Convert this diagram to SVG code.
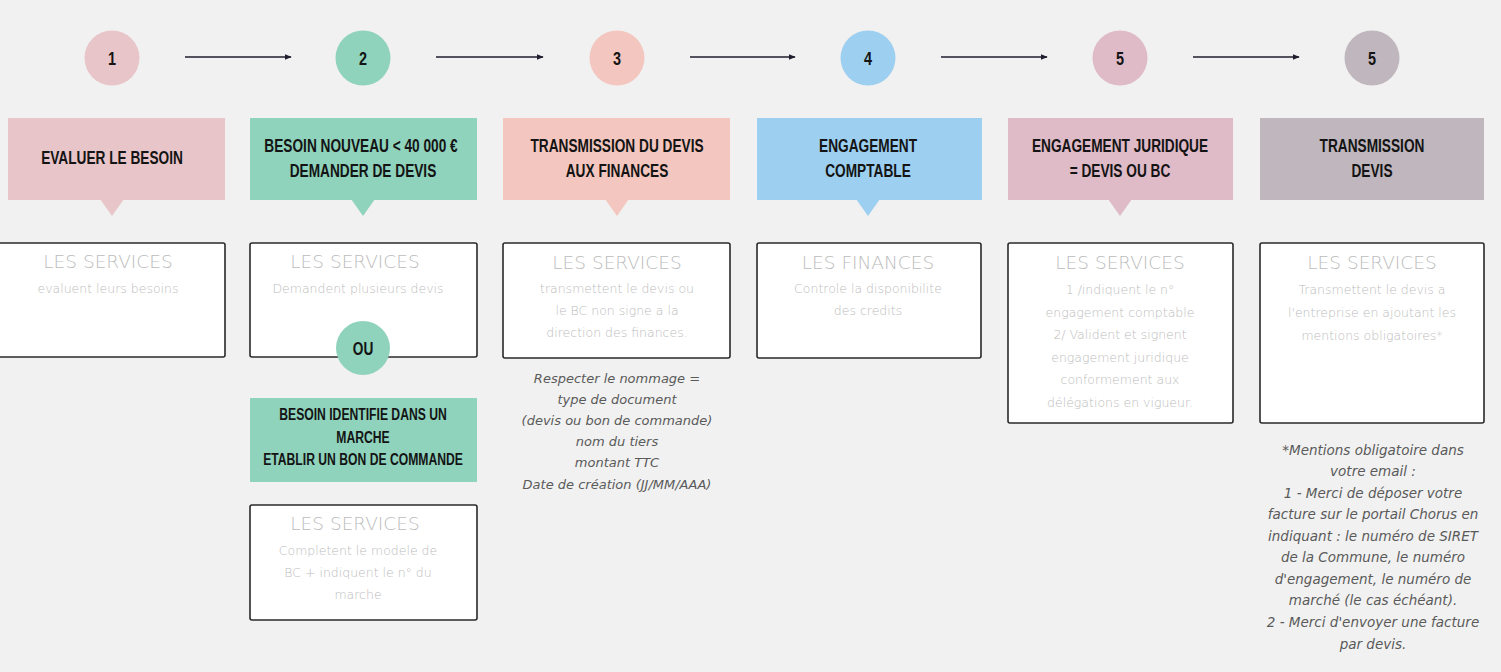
<svg xmlns="http://www.w3.org/2000/svg" width="1501" height="672" viewBox="0 0 1501 672">
<defs>
<style>
.hd{font-family:"Liberation Sans",Arial,sans-serif;font-weight:bold;font-size:18px;fill:#141414;text-anchor:middle}
.hs{font-family:"Liberation Sans",Arial,sans-serif;font-weight:bold;font-size:16px;fill:#141414;text-anchor:middle}
.num{font-family:"Liberation Sans",Arial,sans-serif;font-weight:bold;font-size:19px;fill:#141414;text-anchor:middle}
.box{fill:#ffffff;stroke:#2a2a2a;stroke-width:1.6}
.ttl{font-family:"DejaVu Sans",sans-serif;font-weight:200;font-size:18.5px;fill:#bcbcbc;text-anchor:middle}
.bd{font-family:"DejaVu Sans",sans-serif;font-weight:200;font-size:12.5px;fill:#bdbdbd;text-anchor:middle}
.it{font-family:"DejaVu Sans",sans-serif;font-style:italic;font-weight:300;font-size:13px;fill:#5a5a5a;text-anchor:middle}
.fn{font-family:"DejaVu Sans",sans-serif;font-style:italic;font-weight:300;font-size:13.5px;fill:#5a5a5a;text-anchor:middle}
.arr{stroke:#1e1e2e;stroke-width:1.4;fill:none;marker-end:url(#ah)}
</style>
<marker id="ah" viewBox="0 0 10 10" refX="9" refY="5" markerWidth="5" markerHeight="5" orient="auto"><path d="M0,1 L10,5 L0,9 z" fill="#1e1e2e"/></marker>
</defs>
<rect width="1501" height="672" fill="#f1f1f1"/>

<g id="connectors">
<line class="arr" x1="185" y1="57" x2="291" y2="57"/>
<line class="arr" x1="436" y1="57" x2="543" y2="57"/>
<line class="arr" x1="690" y1="57" x2="795" y2="57"/>
<line class="arr" x1="941" y1="57" x2="1047" y2="57"/>
<line class="arr" x1="1193" y1="57" x2="1299" y2="57"/>
</g>

<g id="step1">
<circle cx="112" cy="58" r="27.5" fill="#e8c5c9"/>
<text class="num" transform="translate(112,65) scale(0.76,1)">1</text>
<rect x="8" y="118" width="217" height="82" fill="#e8c5c9"/>
<path d="M100,199 L124,199 L112,216 z" fill="#e8c5c9"/>
<text class="hd" transform="translate(112,164) scale(0.76,1)">EVALUER LE BESOIN</text>
<rect class="box" x="-10" y="243" width="235" height="114" rx="2"/>
<text class="ttl" x="108" y="268">LES SERVICES</text>
<text class="bd" x="108" y="293">evaluent leurs besoins</text>
</g>

<g id="step2">
<circle cx="363" cy="58" r="27.5" fill="#8fd3bd"/>
<text class="num" transform="translate(363,65) scale(0.76,1)">2</text>
<rect x="250" y="118" width="227" height="82" fill="#8fd3bd"/>
<path d="M351,199 L375,199 L363,216 z" fill="#8fd3bd"/>
<text class="hd" transform="translate(361,152) scale(0.76,1)">BESOIN NOUVEAU &lt; 40 000 €</text>
<text class="hd" transform="translate(363,177) scale(0.76,1)">DEMANDER DE DEVIS</text>
<rect class="box" x="250" y="243" width="227" height="114" rx="2"/>
<text class="ttl" x="355" y="268">LES SERVICES</text>
<text class="bd" x="358" y="293">Demandent plusieurs devis</text>
</g>

<g id="ou">
<circle cx="363" cy="348" r="27" fill="#8fd3bd"/>
<text class="hd" transform="translate(363,355) scale(0.76,1)">OU</text>
</g>

<g id="step2b">
<rect x="250" y="398" width="227" height="84" fill="#8fd3bd"/>
<text class="hs" transform="translate(363,420) scale(0.76,1)">BESOIN IDENTIFIE DANS UN</text>
<text class="hs" transform="translate(363,443) scale(0.76,1)">MARCHE</text>
<text class="hs" transform="translate(363,465) scale(0.76,1)">ETABLIR UN BON DE COMMANDE</text>
<rect class="box" x="250" y="505" width="227" height="115" rx="2"/>
<text class="ttl" x="355" y="530">LES SERVICES</text>
<text class="bd" x="358" y="555">Completent le modele de</text>
<text class="bd" x="358" y="577">BC + indiquent le n° du</text>
<text class="bd" x="358" y="599">marche</text>
</g>

<g id="step3">
<circle cx="617" cy="58" r="27.5" fill="#f3c7bf"/>
<text class="num" transform="translate(617,65) scale(0.76,1)">3</text>
<rect x="503" y="118" width="227" height="82" fill="#f3c7bf"/>
<path d="M605,199 L629,199 L617,216 z" fill="#f3c7bf"/>
<text class="hd" transform="translate(617,152) scale(0.76,1)">TRANSMISSION DU DEVIS</text>
<text class="hd" transform="translate(617,177) scale(0.76,1)">AUX FINANCES</text>
<rect class="box" x="503" y="243" width="227" height="115" rx="2"/>
<text class="ttl" x="617" y="269">LES SERVICES</text>
<text class="bd" x="617" y="293">transmettent le devis ou</text>
<text class="bd" x="617" y="315">le BC non signe a la</text>
<text class="bd" x="617" y="337">direction des finances.</text>
<text class="it" x="617" y="383">Respecter le nommage =</text>
<text class="it" x="617" y="404">type de document</text>
<text class="it" x="617" y="425">(devis ou bon de commande)</text>
<text class="it" x="617" y="446">nom du tiers</text>
<text class="it" x="617" y="467">montant TTC</text>
<text class="it" x="617" y="489">Date de création (JJ/MM/AAA)</text>
</g>

<g id="step4">
<circle cx="868" cy="58" r="27.5" fill="#9dcff0"/>
<text class="num" transform="translate(868,65) scale(0.76,1)">4</text>
<rect x="757" y="118" width="225" height="82" fill="#9dcff0"/>
<path d="M856,199 L880,199 L868,216 z" fill="#9dcff0"/>
<text class="hd" transform="translate(868,152) scale(0.76,1)">ENGAGEMENT</text>
<text class="hd" transform="translate(868,177) scale(0.76,1)">COMPTABLE</text>
<rect class="box" x="757" y="243" width="224" height="115" rx="2"/>
<text class="ttl" x="868" y="269">LES FINANCES</text>
<text class="bd" x="868" y="293">Controle la disponibilite</text>
<text class="bd" x="868" y="315">des credits</text>
</g>

<g id="step5">
<circle cx="1120" cy="58" r="27.5" fill="#dfbac7"/>
<text class="num" transform="translate(1120,65) scale(0.76,1)">5</text>
<rect x="1008" y="118" width="225" height="82" fill="#dfbac7"/>
<path d="M1108,199 L1132,199 L1120,216 z" fill="#dfbac7"/>
<text class="hd" transform="translate(1120,152) scale(0.76,1)">ENGAGEMENT JURIDIQUE</text>
<text class="hd" transform="translate(1120,177) scale(0.76,1)">= DEVIS OU BC</text>
<rect class="box" x="1008" y="243" width="225" height="180" rx="2"/>
<text class="ttl" x="1120" y="269">LES SERVICES</text>
<text class="bd" x="1120" y="294">1 /indiquent le n°</text>
<text class="bd" x="1120" y="317">engagement comptable</text>
<text class="bd" x="1120" y="339">2/ Valident et signent</text>
<text class="bd" x="1120" y="362">engagement juridique</text>
<text class="bd" x="1120" y="384">conformement aux</text>
<text class="bd" x="1120" y="407">délégations en vigueur.</text>
</g>

<g id="step6">
<circle cx="1372" cy="58" r="27.5" fill="#bfb7bd"/>
<text class="num" transform="translate(1372,65) scale(0.76,1)">5</text>
<rect x="1260" y="118" width="224" height="82" fill="#bfb7bd"/>
<text class="hd" transform="translate(1372,152) scale(0.76,1)">TRANSMISSION</text>
<text class="hd" transform="translate(1372,177) scale(0.76,1)">DEVIS</text>
<rect class="box" x="1260" y="243" width="224" height="180" rx="2"/>
<text class="ttl" x="1372" y="269">LES SERVICES</text>
<text class="bd" x="1372" y="294">Transmettent le devis a</text>
<text class="bd" x="1372" y="317">l'entreprise en ajoutant les</text>
<text class="bd" x="1372" y="340">mentions obligatoires*</text>
<text class="fn" x="1373" y="455">*Mentions obligatoire dans</text>
<text class="fn" x="1373" y="476">votre email :</text>
<text class="fn" x="1373" y="498">1 - Merci de déposer votre</text>
<text class="fn" x="1373" y="519">facture sur le portail Chorus en</text>
<text class="fn" x="1373" y="541">indiquant : le numéro de SIRET</text>
<text class="fn" x="1373" y="562">de la Commune, le numéro</text>
<text class="fn" x="1373" y="584">d'engagement, le numéro de</text>
<text class="fn" x="1373" y="605">marché (le cas échéant).</text>
<text class="fn" x="1373" y="627">2 - Merci d'envoyer une facture</text>
<text class="fn" x="1373" y="649">par devis.</text>
</g>
</svg>
